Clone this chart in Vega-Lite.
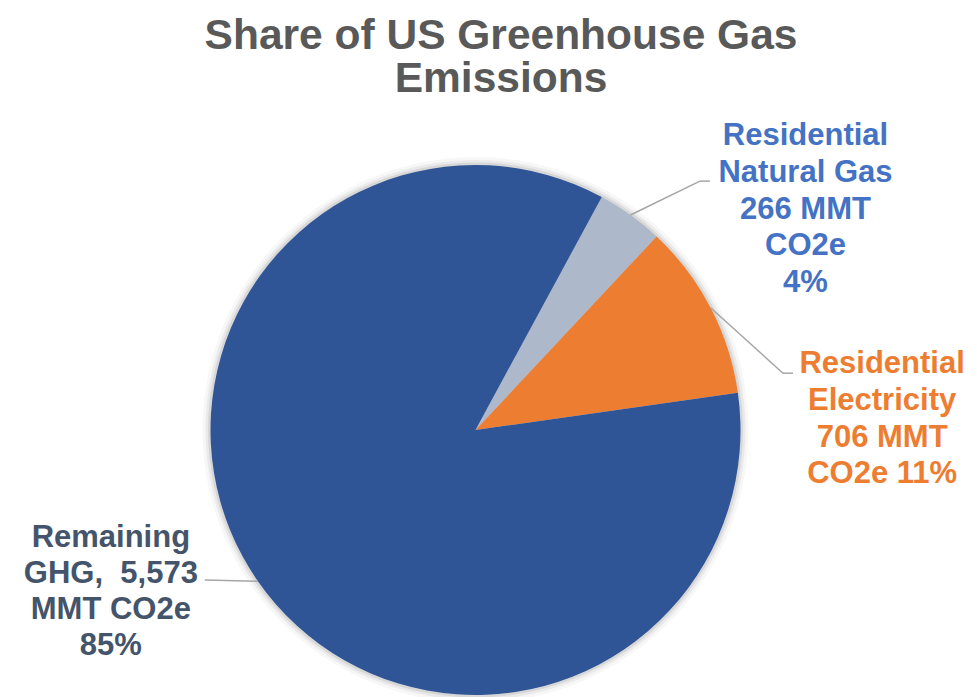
{
  "$schema": "https://vega.github.io/schema/vega-lite/v6.json",
  "width": 951,
  "height": 530,
  "autosize": {"type": "none"},
  "padding": {"left": 0, "top": 165, "right": 26, "bottom": 2},
  "background": "white",
  "config": {"view": {"stroke": null}},
  "title": {
    "text": ["Share of US Greenhouse Gas", "Emissions"],
    "font": "Liberation Sans",
    "fontSize": 42.5,
    "fontWeight": "bold",
    "color": "#595959",
    "lineHeight": 43,
    "anchor": "middle",
    "frame": "group",
    "dx": 25.5,
    "offset": 20
  },
  "data": {
    "values": [
      {"category": "Residential Natural Gas", "value": 266, "ord": 1, "label": "Residential\nNatural Gas\n266 MMT\nCO2e\n4%"},
      {"category": "Residential Electricity", "value": 706, "ord": 2, "label": "Residential\nElectricity\n706 MMT\nCO2e 11%"},
      {"category": "Remaining GHG", "value": 5573, "ord": 3, "label": "Remaining\nGHG, \u00a05,573\nMMT CO2e\n85%"}
    ]
  },
  "transform": [
    {"joinaggregate": [{"op": "sum", "field": "value", "as": "total"}]},
    {"window": [{"op": "sum", "field": "value", "as": "cum"}], "sort": [{"field": "ord", "order": "ascending"}], "frame": [null, 0]},
    {"calculate": "0.497 + (datum.cum - datum.value / 2) / datum.total * 2 * PI", "as": "mid"},
    {"calculate": "sin(datum.mid)", "as": "ex"},
    {"calculate": "cos(datum.mid)", "as": "ey"}
  ],
  "layer": [
    {
      "mark": {"type": "arc", "radius": 273, "color": "#000000", "opacity": 0.03},
      "encoding": {"theta": {"field": "value", "type": "quantitative", "stack": true, "scale": {"range": [0.497, 6.780]}}, "order": {"field": "ord"}}
    },
    {
      "mark": {"type": "arc", "radius": 270, "color": "#000000", "opacity": 0.05},
      "encoding": {"theta": {"field": "value", "type": "quantitative", "stack": true}, "order": {"field": "ord"}}
    },
    {
      "mark": {"type": "arc", "radius": 267.5, "color": "#000000", "opacity": 0.08},
      "encoding": {"theta": {"field": "value", "type": "quantitative", "stack": true}, "order": {"field": "ord"}}
    },
    {
      "mark": {"type": "arc", "radius": 265},
      "encoding": {
        "theta": {"field": "value", "type": "quantitative", "stack": true},
        "order": {"field": "ord"},
        "color": {
          "field": "category",
          "type": "nominal",
          "scale": {"domain": ["Residential Natural Gas", "Residential Electricity", "Remaining GHG"], "range": ["#ADB9CA", "#ED7D31", "#2F5597"]},
          "legend": null
        }
      }
    },
    {
      "transform": [
        {"filter": "datum.ord == 1"},
        {"calculate": "datum.ex + 0.262", "as": "bx"},
        {"calculate": "datum.ey + 0.128", "as": "by"}
      ],
      "mark": {"type": "rule", "color": "#A6A6A6", "strokeWidth": 1.5},
      "encoding": {
        "x": {"field": "ex", "type": "quantitative", "scale": {"domain": [-1.7943, 1.7943], "nice": false, "zero": false}, "axis": null},
        "y": {"field": "ey", "type": "quantitative", "scale": {"domain": [-1, 1], "nice": false, "zero": false}, "axis": null},
        "x2": {"field": "bx"},
        "y2": {"field": "by"}
      }
    },
    {
      "transform": [
        {"filter": "datum.ord == 1"},
        {"calculate": "datum.ex + 0.262", "as": "bx"},
        {"calculate": "datum.ey + 0.128", "as": "by"},
        {"calculate": "datum.bx + 0.038", "as": "cx"}
      ],
      "mark": {"type": "rule", "color": "#A6A6A6", "strokeWidth": 1.5},
      "encoding": {
        "x": {"field": "bx", "type": "quantitative", "axis": null},
        "y": {"field": "by", "type": "quantitative", "axis": null},
        "x2": {"field": "cx"}
      }
    },
    {
      "transform": [
        {"filter": "datum.ord == 2"},
        {"calculate": "datum.ex + 0.273", "as": "bx"},
        {"calculate": "datum.ey - 0.247", "as": "by"}
      ],
      "mark": {"type": "rule", "color": "#A6A6A6", "strokeWidth": 1.5},
      "encoding": {
        "x": {"field": "ex", "type": "quantitative", "axis": null},
        "y": {"field": "ey", "type": "quantitative", "axis": null},
        "x2": {"field": "bx"},
        "y2": {"field": "by"}
      }
    },
    {
      "transform": [
        {"filter": "datum.ord == 2"},
        {"calculate": "datum.ex + 0.273", "as": "bx"},
        {"calculate": "datum.ey - 0.247", "as": "by"},
        {"calculate": "datum.bx + 0.038", "as": "cx"}
      ],
      "mark": {"type": "rule", "color": "#A6A6A6", "strokeWidth": 1.5},
      "encoding": {
        "x": {"field": "bx", "type": "quantitative", "axis": null},
        "y": {"field": "by", "type": "quantitative", "axis": null},
        "x2": {"field": "cx"}
      }
    },
    {
      "transform": [
        {"filter": "datum.ord == 3"},
        {"calculate": "datum.ex - 0.2", "as": "bx"},
        {"calculate": "datum.ey + 0.005", "as": "by"}
      ],
      "mark": {"type": "rule", "color": "#A6A6A6", "strokeWidth": 1.5},
      "encoding": {
        "x": {"field": "ex", "type": "quantitative", "axis": null},
        "y": {"field": "ey", "type": "quantitative", "axis": null},
        "x2": {"field": "bx"},
        "y2": {"field": "by"}
      }
    },
    {
      "transform": [{"filter": "datum.ord == 1"}],
      "mark": {"type": "text", "font": "Liberation Sans", "fontSize": 31, "fontWeight": "bold", "color": "#4472C4", "lineBreak": "\n", "lineHeight": 36.75, "align": "center", "baseline": "alphabetic", "dx": 175, "dy": -70},
      "encoding": {
        "x": {"field": "ex", "type": "quantitative", "axis": null},
        "y": {"field": "ey", "type": "quantitative", "axis": null},
        "text": {"field": "label"}
      }
    },
    {
      "transform": [{"filter": "datum.ord == 2"}],
      "mark": {"type": "text", "font": "Liberation Sans", "fontSize": 31, "fontWeight": "bold", "color": "#ED7D31", "lineBreak": "\n", "lineHeight": 36.75, "align": "center", "baseline": "alphabetic", "dx": 171.5, "dy": 65.4},
      "encoding": {
        "x": {"field": "ex", "type": "quantitative", "axis": null},
        "y": {"field": "ey", "type": "quantitative", "axis": null},
        "text": {"field": "label"}
      }
    },
    {
      "transform": [{"filter": "datum.ord == 3"}],
      "mark": {"type": "text", "font": "Liberation Sans", "fontSize": 31, "fontWeight": "bold", "color": "#44546A", "lineBreak": "\n", "lineHeight": 36, "align": "center", "baseline": "alphabetic", "dx": -147, "dy": -34},
      "encoding": {
        "x": {"field": "ex", "type": "quantitative", "axis": null},
        "y": {"field": "ey", "type": "quantitative", "axis": null},
        "text": {"field": "label"}
      }
    }
  ]
}
